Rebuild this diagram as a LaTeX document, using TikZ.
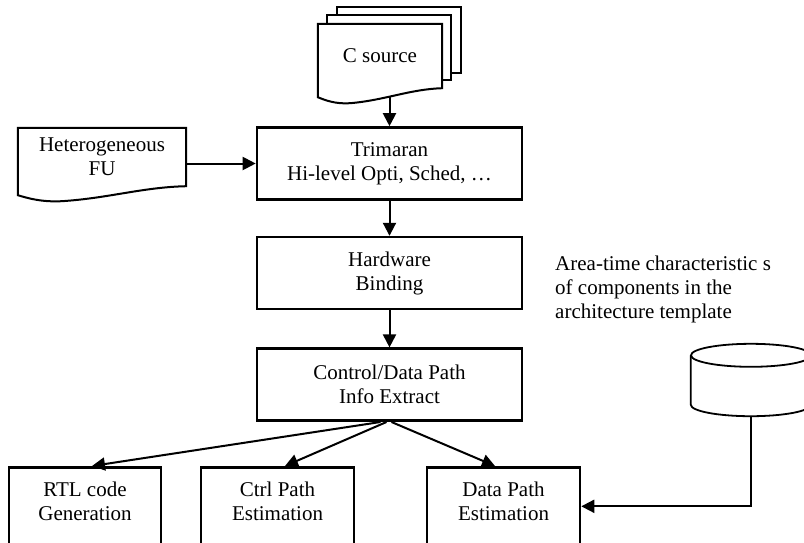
\documentclass[tikz,border=0pt]{standalone}
\usepackage{fontspec}
\setmainfont{Liberation Serif}
\usetikzlibrary{arrows.meta,positioning,calc,backgrounds}

% outline of a document sheet with a wavy lower edge
\newcommand{\docoutline}[1]{%
  \draw[docline] (#1.north west) -- (#1.north east) -- (#1.south east)
    .. controls ($(#1.south east)!0.26!(#1.south west)+(0,1)$)
            and ($(#1.south west)!0.54!(#1.south east)+(0,12)$)
    .. ($(#1.south west)!0.26!(#1.south east)+(0,15)$)
    .. controls ($(#1.south west)!0.14!(#1.south east)+(0,16)$)
            and ($(#1.south west)!0.06!(#1.south east)+(0,12)$)
    .. ($(#1.south west)+(0,9)$) -- cycle;}

\begin{document}
\begin{tikzpicture}[x=1pt,y=-1pt,
  node distance=36pt,
  font=\fontsize{21}{24}\selectfont,
  procbox/.style={draw,line width=2.6pt,align=center,
                  minimum width=265pt,minimum height=72pt},
  estbox/.style={draw,line width=2.6pt,align=center,anchor=north,
                 minimum width=153pt,minimum height=96pt,text depth=28pt},
  docbox/.style={align=center,inner sep=0pt},
  docline/.style={line width=2pt,fill=white},
  dbline/.style={line width=1.8pt},
  flow/.style={-{Triangle[length=13pt,width=13pt]},line width=2pt}
]
\useasboundingbox (0,0) rectangle (804,542);

\node[docbox,minimum width=124pt,minimum height=66pt] (csrcc) at (399,40) {};
\node[docbox,minimum width=124pt,minimum height=65pt] (csrcb) at (389,47.5) {};
\node[docbox,minimum width=124pt,minimum height=64pt] (csrc) at (380,56) {C source};
\node[docbox,minimum width=168pt,minimum height=58pt] (hetero) at (102,157) {Heterogeneous\\FU};

\node[procbox] (trimaran) at (389.5,163.5) {Trimaran\\Hi-level Opti, Sched, \dots};
\node[procbox, below=35pt of trimaran] (hwbind) {Hardware\\Binding};
\node[procbox, below=37pt of hwbind] (cdpath) {Control/Data Path\\Info Extract};

\node[estbox, minimum width=152pt] (rtl) at (85,466) {RTL code\\Generation};
\node[estbox] (ctrlest) at (277.5,466) {Ctrl Path\\Estimation};
\node[estbox] (dataest) at (503.5,466) {Data Path\\Estimation};

\node[align=left,anchor=west,inner sep=0pt] (areatxt) at (555,289)
  {Area-time characteristic s\\of components in the\\architecture template};
\node[inner sep=0pt,minimum width=120pt,minimum height=49pt] (db) at (751,380) {};

\begin{scope}[on background layer]
  \draw[docline] (csrcc.north west) rectangle (csrcc.south east);
  \draw[docline] (csrcb.north west) rectangle (csrcb.south east);
  \docoutline{csrc}
  \docoutline{hetero}
\end{scope}

% database cylinder
\draw[dbline] (db.north west) -- (db.south west)
  arc[start angle=180,end angle=360,x radius=60pt,y radius=11.5pt] -- (db.north east);
\draw[dbline] (db.north) ellipse[x radius=60pt,y radius=11.5pt];
\coordinate (dbbot) at ($(db.south)+(0,11.5)$);
\coordinate (csrcout) at ($(csrc.south -| trimaran.north)+(0,9)$);

\draw[flow] (csrcout) -- (trimaran.north);
\draw[flow] (hetero.east |- trimaran.west) -- (trimaran.west);
\draw[flow] (trimaran) -- (hwbind);
\draw[flow] (hwbind) -- (cdpath);
\draw[flow] ([xshift=-9pt]cdpath.south) -- ([xshift=7pt]rtl.north);
\draw[flow] ([xshift=-3pt]cdpath.south) -- ([xshift=7.5pt]ctrlest.north);
\draw[flow] ([xshift=2pt]cdpath.south) -- ([xshift=-8.5pt]dataest.north);
\draw[flow] (dbbot) |- ([yshift=9pt]dataest.east);
\end{tikzpicture}
\end{document}
